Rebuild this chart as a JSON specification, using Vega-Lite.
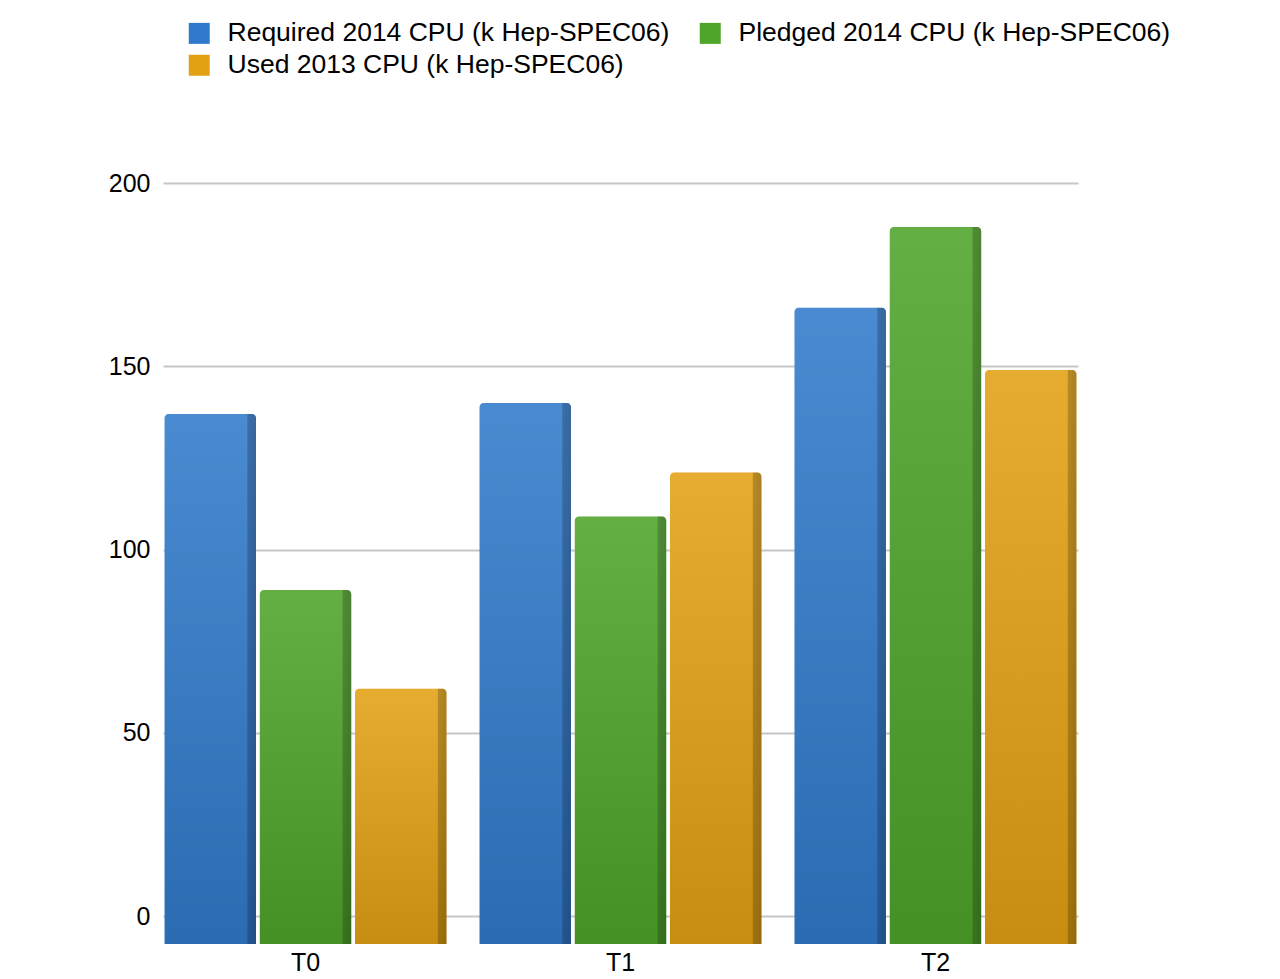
{
  "$schema": "https://vega.github.io/schema/vega-lite/v6.json",
  "autosize": "none",
  "width": 915,
  "height": 761,
  "padding": {"left": 163, "top": 183, "right": 202, "bottom": 35},
  "background": "white",
  "config": {
    "view": {"stroke": null},
    "font": "Liberation Sans",
    "axis": {"labelFont": "Liberation Sans", "labelColor": "black"},
    "legend": {"labelFont": "Liberation Sans", "labelColor": "black"}
  },
  "data": {
    "values": [
      {"tier": "T0", "series": "Required 2014 CPU (k Hep-SPEC06)", "value": 137},
      {"tier": "T0", "series": "Pledged 2014 CPU (k Hep-SPEC06)", "value": 89},
      {"tier": "T0", "series": "Used 2013 CPU (k Hep-SPEC06)", "value": 62},
      {"tier": "T1", "series": "Required 2014 CPU (k Hep-SPEC06)", "value": 140},
      {"tier": "T1", "series": "Pledged 2014 CPU (k Hep-SPEC06)", "value": 109},
      {"tier": "T1", "series": "Used 2013 CPU (k Hep-SPEC06)", "value": 121},
      {"tier": "T2", "series": "Required 2014 CPU (k Hep-SPEC06)", "value": 166},
      {"tier": "T2", "series": "Pledged 2014 CPU (k Hep-SPEC06)", "value": 188},
      {"tier": "T2", "series": "Used 2013 CPU (k Hep-SPEC06)", "value": 149}
    ]
  },
  "encoding": {
    "x": {
      "field": "tier",
      "type": "nominal",
      "title": null,
      "scale": {"paddingInner": 0.105, "paddingOuter": 0.005},
      "axis": {
        "labelAngle": 0,
        "domain": false,
        "ticks": false,
        "labelFontSize": 25,
        "labelPadding": 6,
        "labelBaseline": "top"
      }
    },
    "xOffset": {
      "field": "series",
      "type": "nominal",
      "sort": [
        "Required 2014 CPU (k Hep-SPEC06)",
        "Pledged 2014 CPU (k Hep-SPEC06)",
        "Used 2013 CPU (k Hep-SPEC06)"
      ],
      "scale": {"paddingInner": 0.04}
    },
    "y": {
      "field": "value",
      "type": "quantitative",
      "title": null,
      "scale": {"domain": [-7.6, 200], "nice": false, "zero": false},
      "axis": {
        "values": [0, 50, 100, 150, 200],
        "domain": false,
        "ticks": false,
        "labelFontSize": 25,
        "labelPadding": 13,
        "gridColor": "#c6c6c6",
        "gridWidth": 2
      }
    },
    "y2": {"datum": -7.6}
  },
  "layer": [
    {
      "mark": {"type": "bar", "cornerRadiusTopLeft": 4, "cornerRadiusTopRight": 4},
      "encoding": {
        "color": {
          "field": "series",
          "type": "nominal",
          "sort": [
            "Required 2014 CPU (k Hep-SPEC06)",
            "Pledged 2014 CPU (k Hep-SPEC06)",
            "Used 2013 CPU (k Hep-SPEC06)"
          ],
          "scale": {"range": ["#317acb", "#4fa42a", "#e2a113"]},
          "legend": {
            "title": null,
            "orient": "none",
            "legendX": 23,
            "legendY": -163,
            "columns": 2,
            "direction": "horizontal",
            "symbolType": "square",
            "symbolSize": 441,
            "symbolStrokeWidth": 0,
            "labelFontSize": 26.5,
            "labelOffset": 15,
            "columnPadding": 27,
            "rowPadding": 5,
            "labelLimit": 600
          }
        }
      }
    },
    {
      "mark": {
        "type": "bar",
        "cornerRadiusTopLeft": 4,
        "cornerRadiusTopRight": 4,
        "color": {
          "gradient": "linear",
          "x1": 0, "y1": 0, "x2": 0, "y2": 1,
          "stops": [
            {"offset": 0, "color": "rgba(255,255,255,0.12)"},
            {"offset": 1, "color": "rgba(0,0,0,0.12)"}
          ]
        }
      }
    },
    {
      "mark": {
        "type": "bar",
        "cornerRadiusTopLeft": 4,
        "cornerRadiusTopRight": 4,
        "color": {
          "gradient": "linear",
          "x1": 0, "y1": 0, "x2": 1, "y2": 0,
          "stops": [
            {"offset": 0, "color": "rgba(0,0,0,0)"},
            {"offset": 0.9, "color": "rgba(0,0,0,0)"},
            {"offset": 0.91, "color": "rgba(0,0,0,0.2)"},
            {"offset": 1, "color": "rgba(0,0,0,0.26)"}
          ]
        }
      }
    }
  ]
}
